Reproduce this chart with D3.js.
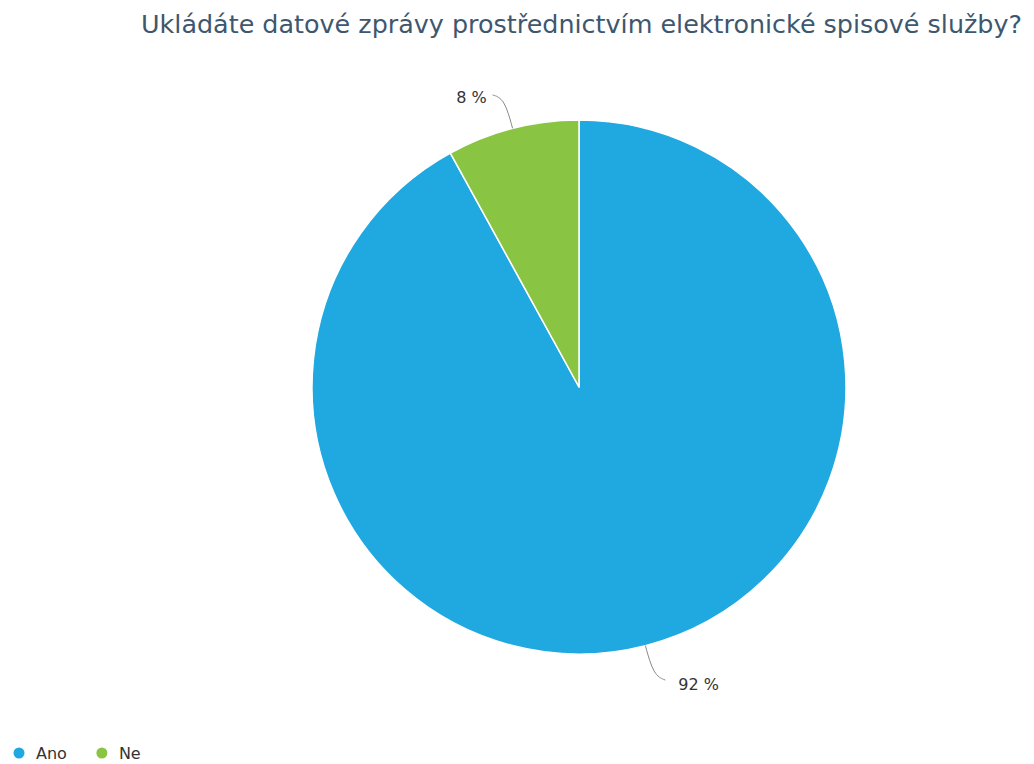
<!DOCTYPE html>
<html>
<head>
<meta charset="utf-8">
<script src="https://cdn.jsdelivr.net/npm/d3@7"></script>
<style>
  body { margin: 0; background: #fff; }
  svg { display: block; }
</style>
</head>
<body>
<svg id="chart" width="1034" height="764"></svg>
<script>
// Survey answers and their shares (%)
const categories = ["Ano", "Ne"];
const values = [92, 8];
const colors = ["#20a8e0", "#89c442"];
const titleText = "Ukládáte datové zprávy prostřednictvím elektronické spisové služby?";

const svg = d3.select("#chart");
const cx = 579, cy = 387, radius = 267;
const font = "DejaVu Sans, sans-serif";

// Title
svg.append("text")
  .attr("x", 141).attr("y", 33)
  .attr("font-family", font)
  .attr("font-size", 25)
  .attr("fill", "#3e576f")
  .attr("textLength", 881)
  .attr("lengthAdjust", "spacingAndGlyphs")
  .text(titleText);

const data = categories.map((c, i) => ({ name: c, value: values[i], color: colors[i] }));

const pie = d3.pie().sort(null).value(d => d.value);
const arcs = pie(data);
const arc = d3.arc().innerRadius(0).outerRadius(radius);

const g = svg.append("g").attr("transform", `translate(${cx},${cy})`);

g.selectAll("path.slice")
  .data(arcs)
  .join("path")
  .attr("class", "slice")
  .attr("d", arc)
  .attr("fill", d => d.data.color)
  .attr("stroke", "#ffffff")
  .attr("stroke-width", 1.5)
  .attr("stroke-linejoin", "round");

// Data labels with bent connectors
arcs.forEach(d => {
  const mid = (d.startAngle + d.endAngle) / 2;
  const sx = Math.sin(mid), sy = -Math.cos(mid);
  const right = sx >= 0;
  const p0 = [sx * radius, sy * radius];
  const p1 = [sx * (radius + 32), sy * (radius + 32)];
  const p2 = [p1[0] + (right ? 12 : -12), p1[1] + (right ? 3.5 : -2.5)];
  const line = d3.line().curve(d3.curveBundle.beta(0.9));
  g.append("path")
    .attr("d", line([p0, p1, p2]))
    .attr("fill", "none")
    .attr("stroke", "#8a8a8a")
    .attr("stroke-width", 1);
  g.append("text")
    .attr("x", p2[0] + (right ? 13 : -6))
    .attr("y", p2[1] + (right ? 4.5 : 2.5))
    .attr("dy", "0.35em")
    .attr("text-anchor", right ? "start" : "end")
    .attr("font-family", font)
    .attr("font-size", 16)
    .attr("fill", "#333")
    .text(`${d.data.value} %`);
});

// Legend
const legend = svg.append("g").attr("transform", "translate(19,753)");
let lx = 0;
data.forEach(d => {
  const item = legend.append("g").attr("transform", `translate(${lx},0)`);
  item.append("circle").attr("r", 5.5).attr("fill", d.color);
  const t = item.append("text")
    .attr("x", 17).attr("y", 6)
    .attr("font-family", font)
    .attr("font-size", 16)
    .attr("fill", "#333")
    .text(d.name);
  lx += 17 + t.node().getComputedTextLength() + 35;
});
</script>
</body>
</html>
